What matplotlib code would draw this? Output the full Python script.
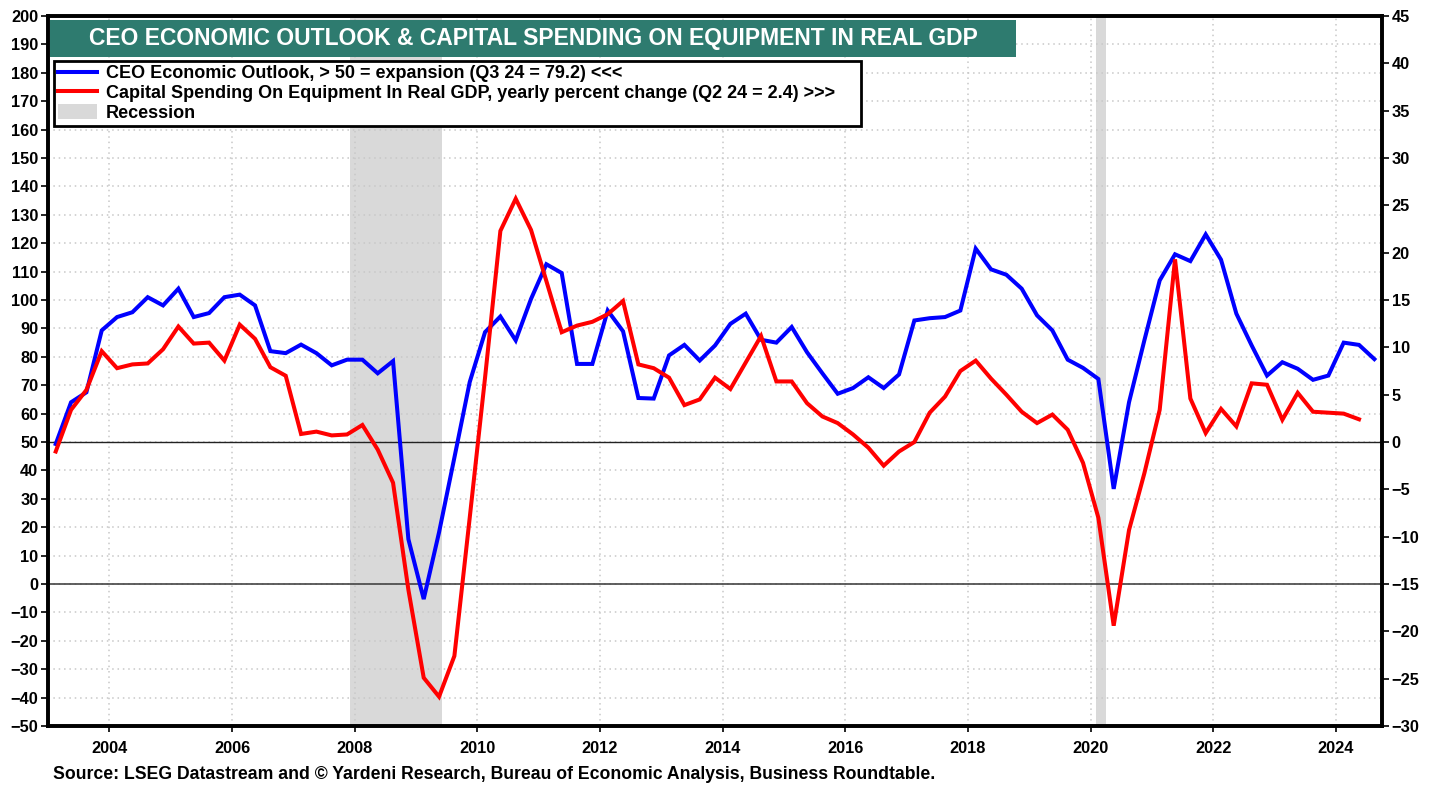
import numpy as np
import matplotlib.pyplot as plt
from matplotlib.patches import Rectangle, Patch
from matplotlib.lines import Line2D

plt.rcParams['font.family'] = ['Liberation Sans', 'DejaVu Sans']
plt.rcParams['font.weight'] = 'bold'

# quarterly data, first quarter = 2003 Q1
ceo_outlook = [
    49.3, 64.0, 67.5, 89.3,      # 2003
    94.0, 95.7, 101.0, 98.1,     # 2004
    104.0, 94.0, 95.4, 101.0,    # 2005
    101.9, 98.1, 82.0, 81.3,     # 2006
    84.3, 81.3, 77.0, 79.0,      # 2007
    79.0, 74.2, 78.5, 15.8,      # 2008
    -5.3, 18.2, 44.5, 71.1,      # 2009
    88.7, 94.2, 85.8, 100.4,     # 2010
    112.6, 109.5, 77.5, 77.5,    # 2011
    96.3, 89.0, 65.5, 65.3,      # 2012
    80.5, 84.2, 78.7, 84.0,      # 2013
    91.6, 95.2, 86.0, 85.0,      # 2014
    90.5, 81.6, 74.2, 67.0,      # 2015
    69.0, 72.8, 69.0, 73.8,      # 2016
    92.8, 93.6, 94.0, 96.3,      # 2017
    118.1, 110.8, 108.9, 104.0,  # 2018
    94.6, 89.3, 79.0, 76.1,      # 2019
    72.2, 33.5, 64.0, 85.8,      # 2020
    106.9, 116.1, 113.7, 123.1,  # 2021
    114.2, 95.2, 84.0, 73.4,     # 2022
    78.1, 75.8, 71.9, 73.4,      # 2023
    85.0, 84.2, 79.2,            # 2024
]

capex_yoy = [
    -1.0, 3.4, 5.5, 9.6,
    7.8, 8.2, 8.3, 9.8,
    12.2, 10.4, 10.5, 8.6,
    12.4, 10.9, 7.9, 7.0,
    0.85, 1.1, 0.7, 0.8,
    1.8, -0.8, -4.3, -15.6,
    -24.9, -26.9, -22.6, -8.0,
    6.8, 22.3, 25.7, 22.4,
    17.0, 11.6, 12.3, 12.7,
    13.5, 14.9, 8.2, 7.8,
    6.8, 3.9, 4.5, 6.8,
    5.6, 8.4, 11.2, 6.4,
    6.4, 4.1, 2.7, 2.0,
    0.8, -0.6, -2.5, -1.0,
    0.0, 3.1, 4.8, 7.5,
    8.6, 6.7, 5.0, 3.2,
    2.0, 2.9, 1.3, -2.2,
    -8.0, -19.4, -9.3, -3.3,
    3.4, 19.3, 4.6, 0.95,
    3.5, 1.65, 6.2, 6.05,
    2.35, 5.2, 3.2, 3.1,
    3.0, 2.4,
]

recessions = [(2007.92, 2009.42), (2020.08, 2020.25)]
year_ticks = list(range(2004, 2025, 2))

# mid-quarter positions in decimal years
t_ceo = 2003.125 + 0.25 * np.arange(len(ceo_outlook))
t_capex = 2003.125 + 0.25 * np.arange(len(capex_yoy))

fig = plt.figure(figsize=(14.39, 7.89), dpi=100)
ax = fig.add_axes([0.0334, 0.0798, 0.927, 0.8999])
ax2 = ax.twinx()

ax.set_xlim(2003.0, 2024.75)
ax.set_ylim(-50, 200)
ax2.set_ylim(-30, 45)

for a, b in recessions:
    ax.axvspan(a, b, color='#d9d9d9', lw=0, zorder=0)

ax.set_yticks(range(-50, 201, 10))
ax2.set_yticks(range(-30, 46, 5))
ax.set_xticks(year_ticks)
ax.set_xticklabels([str(y) for y in year_ticks])

ax.grid(True, color='#c8c8c8', linestyle=(0, (1, 2.5)), linewidth=1.1, zorder=1)
ax.axhline(0, color='#444444', lw=1.2, zorder=2)
ax.axhline(50, color='#222222', lw=1.0, zorder=2)

ax.plot(t_ceo, ceo_outlook, color='#0000ff', lw=2.9, zorder=4, solid_joinstyle='miter')
ax2.plot(t_capex, capex_yoy, color='#ff0000', lw=2.9, zorder=4, solid_joinstyle='miter')
ax2.set_zorder(ax.get_zorder() + 1)
ax2.patch.set_visible(False)

for a in (ax, ax2):
    for s in a.spines.values():
        s.set_linewidth(2.6)
    a.tick_params(axis='both', labelsize=11.8, width=1.2, length=5, direction='out', pad=2)
ax.tick_params(axis='x', pad=7, length=4)

# title banner
ax2.add_patch(Rectangle((0.0015, 0.9423), 0.7241, 0.0521, transform=ax.transAxes,
                        facecolor='#2e7b6f', edgecolor='none', zorder=6))
ax2.text(0.3636, 0.9683, 'CEO ECONOMIC OUTLOOK & CAPITAL SPENDING ON EQUIPMENT IN REAL GDP',
         transform=ax.transAxes, ha='center', va='center', color='white',
         fontsize=16.5, fontweight='bold', zorder=7)

handles = [Line2D([], [], color='#0000ff', lw=2.9),
           Line2D([], [], color='#ff0000', lw=2.9),
           Patch(facecolor='#d9d9d9', edgecolor='none')]
labels = ['CEO Economic Outlook, > 50 = expansion (Q3 24 = 79.2) <<<',
          'Capital Spending On Equipment In Real GDP, yearly percent change (Q2 24 = 2.4) >>>',
          'Recession']
leg = ax2.legend(handles, labels, loc='upper left',
                 bbox_to_anchor=(0.0045, 0.8423, 0.6049, 0.0943), mode='expand',
                 prop={'size': 13, 'weight': 'bold'}, frameon=True, fancybox=False,
                 framealpha=1, edgecolor='black', borderpad=0.2, labelspacing=0.12,
                 handlelength=2.2, handleheight=0.9, handletextpad=0.45, borderaxespad=0)
leg.get_frame().set_linewidth(2.0)
leg.set_zorder(8)

fig.text(0.0368, 0.019, 'Source: LSEG Datastream and \u00a9 Yardeni Research, Bureau of Economic Analysis, Business Roundtable.',
         fontsize=12.7, fontweight='bold', ha='left', va='center')

fig.savefig('out.png', dpi=100)
